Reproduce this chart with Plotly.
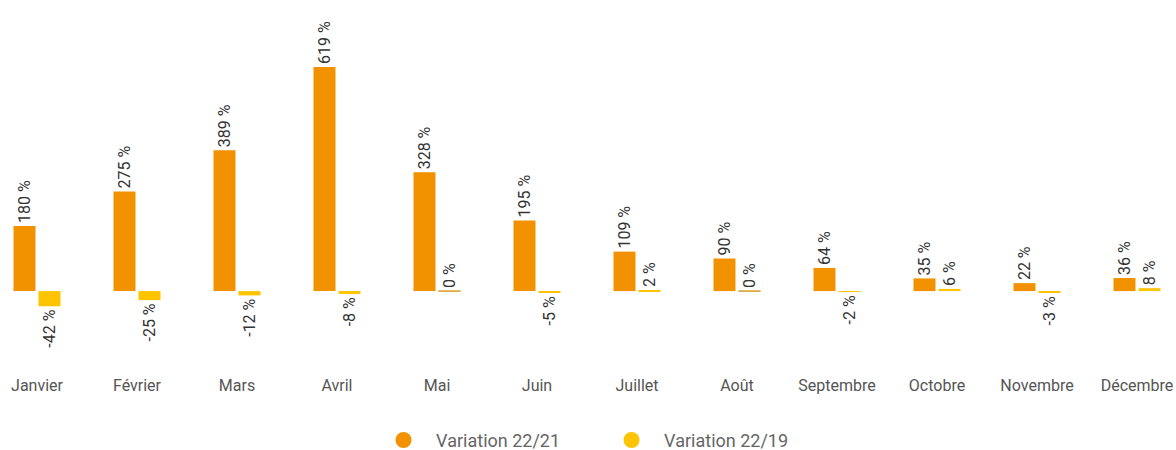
import plotly.graph_objects as go

months = ["Janvier", "Février", "Mars", "Avril", "Mai", "Juin", "Juillet",
          "Août", "Septembre", "Octobre", "Novembre", "Décembre"]
var_22_21 = [180, 275, 389, 619, 328, 195, 109, 90, 64, 35, 22, 36]
var_22_19 = [-42, -25, -12, -8, 0, -5, 2, 0, -2, 6, -3, 8]

name_a = "Variation 22/21"
name_b = "Variation 22/19"
col_a = "#F39200"
col_b = "#FFC400"
zero_line_col = "#D99A1E"

FONT = "Roboto"
PAD = "\u00a0\u00a0\u2009"

fig = go.Figure()
for name, vals, col in [(name_a, var_22_21, col_a), (name_b, var_22_19, col_b)]:
    fig.add_trace(go.Bar(
        x=months, y=vals, name=name,
        marker=dict(color=col, line=dict(color=zero_line_col,
                                         width=[1 if v == 0 else 0 for v in vals])),
        text=[f"{v} %" for v in vals], texttemplate="%{text}",
        textposition="outside", textangle=-90,
        textfont=dict(family=FONT, size=16, color="#333333"),
        constraintext="none", cliponaxis=False, showlegend=False,
    ))
# legend entries with round markers
for name, col in [(name_a, col_a), (name_b, col_b)]:
    fig.add_trace(go.Scatter(
        x=[None], y=[None], mode="markers", name=PAD + name,
        marker=dict(color=col, size=20, symbol="circle"),
        showlegend=True,
    ))

fig.update_layout(
    width=1176, height=450,
    margin=dict(l=0, r=0, t=0, b=80, autoexpand=False),
    paper_bgcolor="white", plot_bgcolor="white",
    barmode="group", bargap=0.5, bargroupgap=0.12,
    font=dict(family=FONT, color="#555555"),
    xaxis=dict(range=[-0.37, 11.39], showgrid=False, zeroline=False, showline=False,
               ticks="", ticklabelstandoff=4,
               tickfont=dict(family=FONT, size=16, color="#555555")),
    yaxis=dict(range=[-218, 804], visible=False, showgrid=False, zeroline=False),
    legend=dict(orientation="h", x=0.52, xanchor="center", y=-0.19, yanchor="middle",
                font=dict(family=FONT, size=18, color="#666666"),
                itemsizing="trace", entrywidth=183, entrywidthmode="pixels"),
)

post = (
    "var h=document.documentElement, b=document.body;"
    "b.style.margin='0'; b.style.padding='0';"
    "h.style.overflow='hidden'; b.style.overflow='hidden';"
    "h.style.height='450px'; b.style.height='450px';"
)
fig.write_html("out.html", config={"displayModeBar": False}, post_script=post)
